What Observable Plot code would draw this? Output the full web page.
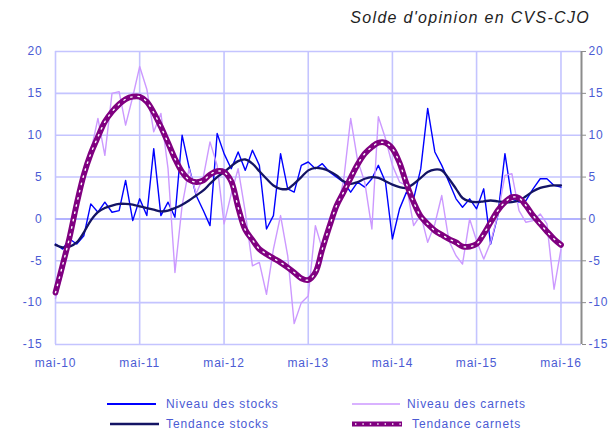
<!DOCTYPE html>
<html><head><meta charset="utf-8">
<script src="https://cdn.jsdelivr.net/npm/d3@7"></script>
<script src="https://cdn.jsdelivr.net/npm/@observablehq/plot@0.6"></script>
<style>
body{margin:0;background:#fff;font-family:"Liberation Sans",Arial,sans-serif;}
#wrap{position:relative;width:613px;height:432px;overflow:hidden;background:#fff}
#title{position:absolute;right:23px;top:9px;font-style:italic;font-size:16px;letter-spacing:1.3px;color:#1e1e1e;white-space:nowrap}
#chart{position:absolute;left:0;top:36px}
.leg{position:absolute;font-size:12px;letter-spacing:0.9px;color:#4b5bd4;white-space:nowrap;line-height:14px;height:14px}
.sw{position:absolute;height:10px}
</style></head><body>
<div id="wrap">
<div id="title">Solde d'opinion en CVS-CJO</div>
<div id="chart"></div>
</div>
<script>
// ---- data (monthly, mai-2010 .. mai-2016) ----
const niveauStocks = [
  -3.0, -3.6, -2.4, -3.0, -2.0, 1.8, 0.8, 2.0, 0.8, 1.0,
  4.6, -0.2, 2.4, 0.4, 8.4, 0.4, 2.0, 0.2, 10.0, 6.2,
  2.8, 1.0, -0.8, 10.2, 7.8, 6.0, 8.0, 5.8, 8.2, 6.4,
  -1.2, 0.4, 7.8, 3.6, 3.2, 6.4, 6.8, 6.0, 6.6, 5.6,
  5.0, 4.4, 3.2, 4.4, 3.8, 4.8, 6.4, 4.4, -2.4, 1.2,
  3.2, 2.4, 6.0, 13.2, 8.0, 6.4, 4.4, 2.4, 1.4, 2.4,
  1.2, 3.6, -3.0, 0.4, 7.8, 2.4, 2.0, 2.2, 3.6, 4.8,
  4.8, 4.0, 3.8
];
const tendanceStocks = [
  -3.1, -3.4, -3.3, -2.8, -1.6, -0.2, 0.8, 1.3, 1.6, 1.8,
  1.8, 1.7, 1.5, 1.3, 1.1, 0.9, 1.0, 1.3, 1.7, 2.2,
  2.8, 3.4, 4.2, 5.0, 5.6, 6.3, 6.9, 7.1, 6.6, 5.7,
  4.8, 4.0, 3.6, 3.6, 4.2, 5.0, 5.8, 6.1, 6.0, 5.7,
  5.2, 4.5, 4.2, 4.4, 4.8, 5.0, 4.9, 4.5, 4.1, 3.8,
  3.7, 4.2, 4.9, 5.6, 5.9, 5.8, 4.8, 3.6, 2.5, 2.1,
  2.0, 2.1, 2.2, 2.1, 2.0, 2.0, 2.2, 2.7, 3.3, 3.7,
  3.9, 4.0, 4.0
];
const niveauCarnets = [
  -9.5, -6.5, -2.5, 1.5, 4.5, 8.0, 12.0, 7.6, 15.0, 15.2,
  11.2, 14.6, 18.2, 15.5, 10.4, 12.6, 6.0, -6.4, 1.6, 6.0,
  3.0, 5.0, 9.2, 6.4, -0.6, 3.0, 6.0, 0.8, -5.6, -5.2,
  -9.0, -3.6, 0.4, -4.4, -12.5, -10.0, -9.2, -0.8, -3.6, -1.0,
  1.0, 4.5, 12.0, 7.0, 4.4, -1.2, 12.2, 9.6, 6.4, 4.4,
  4.0, -0.8, 0.5, -2.8, -0.6, 2.8, -2.6, -4.4, -5.4, 0.0,
  -2.6, -4.8, -2.8, 0.5, 5.2, 5.4, 1.0, -0.4, -0.2, 0.6,
  -0.6, -8.4, -3.6
];
const tendanceCarnets = [
  -8.8, -5.5, -2.2, 1.8, 5.3, 7.8, 9.8, 11.6, 12.8, 13.7,
  14.3, 14.6, 14.6, 14.0, 12.7, 11.0, 9.1, 7.2, 5.6, 4.7,
  4.4, 4.6, 5.3, 5.7, 5.6, 4.5, 1.4, -1.3, -2.5, -3.6,
  -4.2, -4.7, -5.2, -5.8, -6.4, -7.1, -7.3, -6.4, -3.6, -0.9,
  1.6, 3.2, 4.9, 6.5, 7.8, 8.6, 9.1, 9.1, 8.4, 6.7,
  4.2, 2.0, 0.3, -0.6, -1.4, -1.9, -2.4, -2.8, -3.3, -3.3,
  -3.0, -1.8, -0.4, 1.0, 2.0, 2.6, 2.5, 1.6, 0.4, -0.6,
  -1.5, -2.4, -3.1
];
const seriesNames = ["Niveau des stocks", "Niveau des carnets", "Tendance stocks", "Tendance carnets"];
const tickLabels = ["mai-10", "mai-11", "mai-12", "mai-13", "mai-14", "mai-15", "mai-16"];
const yTicks = [-15, -10, -5, 0, 5, 10, 15, 20];

// ---- build ----
const months = d3.utcMonth.range(new Date(Date.UTC(2010, 4, 1)), new Date(Date.UTC(2016, 5, 1)));
const tickDates = tickLabels.map((_, i) => new Date(Date.UTC(2010 + i, 4, 1)));
const xStart = months[0];
const xEnd = new Date(Date.UTC(2016, 6, 29));
const toRows = (vals) => months.map((d, i) => ({date: d, value: vals[i]}));

const C = {
  stocks: "#0000ff",
  carnets: "#cc99ff",
  tstocks: "#141464",
  tcarnets: "#800080",
  grid: "#c4c4ff",
  text: "#4b5bd4",
  axis: "#8c8c8c"
};

const chart = Plot.plot({
  width: 613,
  height: 340,
  marginLeft: 55,
  marginRight: 32,
  marginTop: 15,
  marginBottom: 32,
  style: {fontFamily: "'Liberation Sans', Arial, sans-serif", fontSize: "12px", letterSpacing: "0.8px", background: "#fff"},
  x: {type: "utc", domain: [xStart, xEnd], label: null},
  y: {domain: [-15, 20], label: null},
  marks: [
    Plot.gridY(yTicks, {stroke: C.grid, strokeOpacity: 1, strokeWidth: 1.6}),
    Plot.gridX(tickDates, {stroke: C.grid, strokeOpacity: 1, strokeWidth: 1.6}),
    Plot.ruleY([0], {stroke: "#a8a8ff", strokeWidth: 1.6}),
    Plot.ruleX([xEnd], {stroke: C.axis, strokeWidth: 2}),
    Plot.lineY(toRows(niveauStocks), {x: "date", y: "value", stroke: C.stocks, strokeWidth: 1.4}),
    Plot.lineY(toRows(niveauCarnets), {x: "date", y: "value", stroke: C.carnets, strokeWidth: 1.4}),
    Plot.lineY(toRows(tendanceStocks), {x: "date", y: "value", stroke: C.tstocks, strokeWidth: 2.3, curve: "catmull-rom"}),
    Plot.lineY(toRows(tendanceCarnets), {x: "date", y: "value", stroke: C.tcarnets, strokeWidth: 5.8, curve: "catmull-rom"}),
    Plot.lineY(toRows(tendanceCarnets), {x: "date", y: "value", stroke: "#ffffff", strokeWidth: 1.4, strokeDasharray: "1.4 6", curve: "catmull-rom"}),
    Plot.axisY(yTicks, {anchor: "left", label: null, tickSize: 0, tickPadding: 13, fill: C.text, tickFormat: d => String(d)}),
    Plot.axisY(yTicks, {anchor: "right", label: null, tickSize: 4, tickPadding: 3, stroke: C.axis, fill: C.text, tickFormat: d => String(d)}),
    Plot.axisX(tickDates, {anchor: "bottom", label: null, tickSize: 0, tickPadding: 14, fill: C.text,
      tickFormat: d => tickLabels[tickDates.findIndex(t => +t === +d)]})
  ]
});
document.getElementById("chart").appendChild(chart);

// ---- legend (HTML, below the SVG) ----
const wrap = document.getElementById("wrap");
const legendItems = [
  {name: seriesNames[0], x0: 107, x1: 156, tx: 166, y: 404, kind: "line", color: C.stocks, w: 2},
  {name: seriesNames[1], x0: 352, x1: 400, tx: 407, y: 404, kind: "line", color: C.carnets, w: 1.5},
  {name: seriesNames[2], x0: 110, x1: 159, tx: 166, y: 424, kind: "line", color: C.tstocks, w: 2.4},
  {name: seriesNames[3], x0: 352, x1: 402, tx: 412, y: 424, kind: "dots", color: C.tcarnets, w: 5}
];
for (const it of legendItems) {
  const w = it.x1 - it.x0;
  const sw = document.createElement("div");
  sw.className = "sw";
  sw.style.left = it.x0 + "px";
  sw.style.top = (it.y - 5) + "px";
  sw.style.width = w + "px";
  let svg = `<svg width="${w}" height="10" style="display:block">`;
  svg += `<line x1="0" x2="${w}" y1="5" y2="5" stroke="${it.color}" stroke-width="${it.w}"/>`;
  if (it.kind === "dots") svg += `<line x1="3" x2="${w}" y1="5" y2="5" stroke="#fff" stroke-width="1.4" stroke-dasharray="1.4 6"/>`;
  svg += `</svg>`;
  sw.innerHTML = svg;
  wrap.appendChild(sw);
  const t = document.createElement("div");
  t.className = "leg";
  t.style.left = it.tx + "px";
  t.style.top = (it.y - 7) + "px";
  t.textContent = it.name;
  wrap.appendChild(t);
}
</script>
</body></html>
